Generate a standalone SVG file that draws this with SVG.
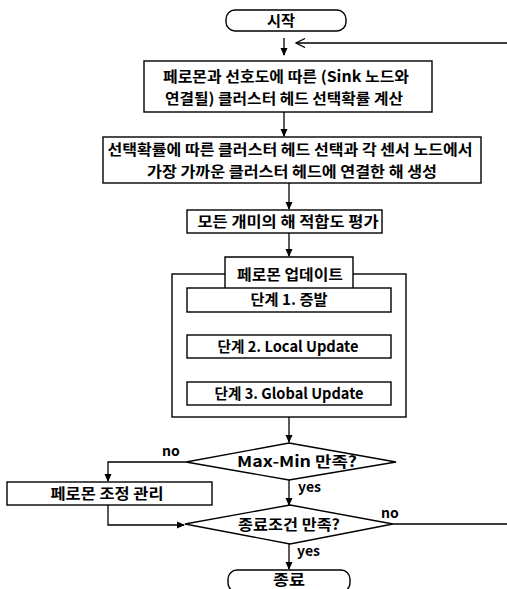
<svg xmlns="http://www.w3.org/2000/svg" width="507" height="589" viewBox="0 0 507 589">
<style>
.box{fill:#fff;stroke:#000;stroke-width:1.4}
.ln{fill:none;stroke:#000;stroke-width:1.3}
.t{font-family:"Noto Sans CJK KR","Noto Sans",sans-serif;font-weight:bold;font-size:15px;fill:#000;text-anchor:middle}
.s{font-family:"Noto Sans CJK KR","Noto Sans",sans-serif;font-weight:bold;font-size:14px;fill:#000}
</style>
<defs>
<marker id="ah" markerWidth="8" markerHeight="8" refX="7" refY="4" orient="auto" markerUnits="userSpaceOnUse">
<path d="M0,0.5 L8,4 L0,7.5 Z" fill="#000"/>
</marker>
<marker id="oa" markerWidth="12" markerHeight="10" refX="10" refY="5" orient="auto" markerUnits="userSpaceOnUse">
<path d="M1,0.5 L10,5 L1,9.5" fill="none" stroke="#000" stroke-width="1.3"/>
</marker>
</defs>
<rect width="507" height="589" fill="#fff"/>
<g id="connectors">
<line class="ln" x1="284" y1="38" x2="284" y2="55" marker-end="url(#ah)"/>
<path class="ln" d="M393,524 H512 V43 H296" marker-end="url(#oa)"/>
<line class="ln" x1="284" y1="112" x2="284" y2="136" marker-end="url(#ah)"/>
<line class="ln" x1="289" y1="183" x2="289" y2="209" marker-end="url(#ah)"/>
<line class="ln" x1="289" y1="233" x2="289" y2="256" marker-end="url(#ah)"/>
<line class="ln" x1="289" y1="417" x2="289" y2="442" marker-end="url(#ah)"/>
<path class="ln" d="M186,462 H108 V481" marker-end="url(#ah)"/>
<line class="ln" x1="289" y1="480" x2="289" y2="505" marker-end="url(#ah)"/>
<path class="ln" d="M108,505 V525 H184" marker-end="url(#ah)"/>
<line class="ln" x1="289" y1="544" x2="289" y2="569" marker-end="url(#ah)"/>
<text class="s" x="162" y="456">no</text>
<text class="s" x="298" y="492">yes</text>
<text class="s" x="381" y="518">no</text>
<text class="s" x="297" y="556">yes</text>
</g>
<g id="start">
<rect class="box" x="226" y="10" width="120" height="21" rx="9"/>
<text class="t" x="281" y="26" textLength="28" lengthAdjust="spacingAndGlyphs">시작</text>
</g>
<g id="calc">
<rect class="box" x="144" y="61" width="288" height="51"/>
<text class="t" x="286" y="82" textLength="246" lengthAdjust="spacingAndGlyphs">페로몬과 선호도에 따른 (Sink 노드와</text>
<text class="t" x="284" y="104" textLength="238" lengthAdjust="spacingAndGlyphs">연결될) 클러스터 헤드 선택확률 계산</text>
</g>
<g id="select">
<rect class="box" x="103" y="137" width="378" height="46"/>
<text class="t" x="290" y="155" textLength="365" lengthAdjust="spacingAndGlyphs">선택확률에 따른 클러스터 헤드 선택과 각 센서 노드에서</text>
<text class="t" x="292" y="177" textLength="290" lengthAdjust="spacingAndGlyphs">가장 가까운 클러스터 헤드에 연결한 해 생성</text>
</g>
<g id="evaluate">
<rect class="box" x="187" y="210" width="195" height="23"/>
<text class="t" x="288" y="227" textLength="181" lengthAdjust="spacingAndGlyphs">모든 개미의 해 적합도 평가</text>
</g>
<g id="update">
<rect class="box" x="172" y="274" width="234" height="143"/>
<path class="box" d="M225,288 V257 H353 V288"/>
<text class="t" x="290" y="280" textLength="106" lengthAdjust="spacingAndGlyphs">페로몬 업데이트</text>
</g>
<g id="step1">
<rect class="box" x="187" y="288" width="204" height="24"/>
<text class="t" x="289" y="305" textLength="77" lengthAdjust="spacingAndGlyphs">단계 1. 증발</text>
</g>
<g id="step2">
<rect class="box" x="187" y="335" width="204" height="23"/>
<text class="t" x="288" y="352" textLength="141" lengthAdjust="spacingAndGlyphs">단계 2. Local Update</text>
</g>
<g id="step3">
<rect class="box" x="187" y="382" width="204" height="23"/>
<text class="t" x="289" y="399" textLength="149" lengthAdjust="spacingAndGlyphs">단계 3. Global Update</text>
</g>
<g id="maxmin">
<path class="box" d="M289,443 L396,462 L289,480 L186,462 Z"/>
<text class="t" x="297" y="467" textLength="120" lengthAdjust="spacingAndGlyphs">Max-Min 만족?</text>
</g>
<g id="adjust">
<rect class="box" x="7" y="482" width="205" height="23"/>
<text class="t" x="107" y="499" textLength="113" lengthAdjust="spacingAndGlyphs">페로몬 조정 관리</text>
</g>
<g id="endcond">
<path class="box" d="M290,505 L393,524 L290,544 L185,524 Z"/>
<text class="t" x="289" y="530" textLength="102" lengthAdjust="spacingAndGlyphs">종료조건 만족?</text>
</g>
<g id="end">
<rect class="box" x="228" y="570" width="122" height="22" rx="9"/>
<text class="t" x="289" y="585" textLength="32" lengthAdjust="spacingAndGlyphs">종료</text>
</g>
</svg>
